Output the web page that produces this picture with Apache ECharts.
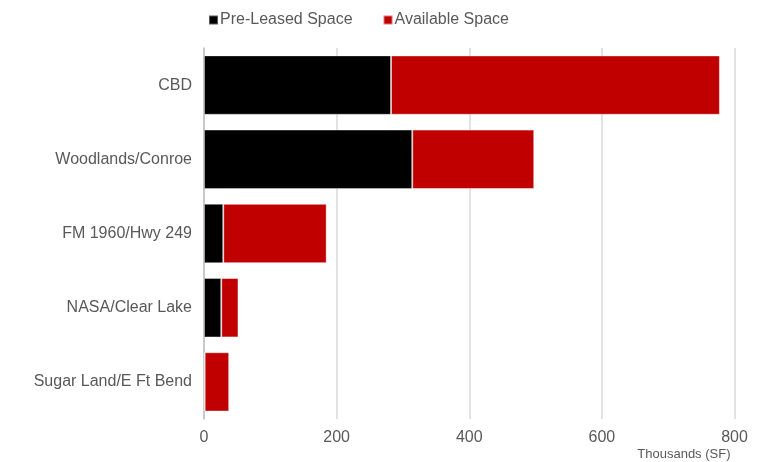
<!DOCTYPE html>
<html>
<head>
<meta charset="utf-8">
<script src="https://cdn.jsdelivr.net/npm/echarts@6/dist/echarts.min.js"></script>
<style>html,body{margin:0;padding:0;background:#fff}#c{width:760px;height:462px}</style>
</head>
<body>
<div id="c"></div>
<script>
const categories = ['CBD', 'Woodlands/Conroe', 'FM 1960/Hwy 249', 'NASA/Clear Lake', 'Sugar Land/E Ft Bend'];
const preLeased = [282, 314, 29, 26, 1];
const available = [496, 184, 156, 26, 37];
const xTicks = [0, 200, 400, 600, 800];

const chart = echarts.init(document.getElementById('c'));
const font = 'Liberation Sans, Arial, Helvetica, sans-serif';
chart.setOption({
  animation: false,
  textStyle: { fontFamily: font },
  legend: {
    top: 7, left: 203, itemWidth: 9, itemHeight: 9, itemGap: 30,
    icon: 'rect',
    textStyle: { fontSize: 16, color: '#595959', fontFamily: font, padding: [0, 0, 0, -3] },
    data: ['Pre-Leased Space', 'Available Space']
  },
  grid: { left: 204, right: 25.5, top: 48, bottom: 43 },
  xAxis: {
    type: 'value', min: xTicks[0], max: xTicks[xTicks.length - 1], interval: 200,
    name: 'Thousands (SF)', nameLocation: 'end', nameGap: 0,
    nameTextStyle: { fontSize: 13, color: '#595959', align: 'right', verticalAlign: 'top', padding: [29, 4, 0, 0] },
    axisLine: { show: false }, axisTick: { show: false },
    axisLabel: { fontSize: 16, color: '#595959', margin: 11 },
    splitLine: { lineStyle: { color: '#d9d9d9', width: 1.5 } }
  },
  yAxis: {
    type: 'category', data: categories, inverse: true,
    axisLine: { show: true, lineStyle: { color: '#bfbfbf', width: 1.5 } },
    axisTick: { show: false },
    axisLabel: { fontSize: 16, color: '#595959', margin: 12 }
  },
  series: [
    { name: 'Pre-Leased Space', type: 'bar', stack: 's', data: preLeased, barCategoryGap: '20%',
      itemStyle: { color: '#000000', borderColor: 'rgba(255,255,255,0.35)', borderWidth: 1 } },
    { name: 'Available Space', type: 'bar', stack: 's', data: available, barCategoryGap: '20%',
      itemStyle: { color: '#c00000', borderColor: 'rgba(255,255,255,0.45)', borderWidth: 1 } }
  ]
});
</script>
</body>
</html>
